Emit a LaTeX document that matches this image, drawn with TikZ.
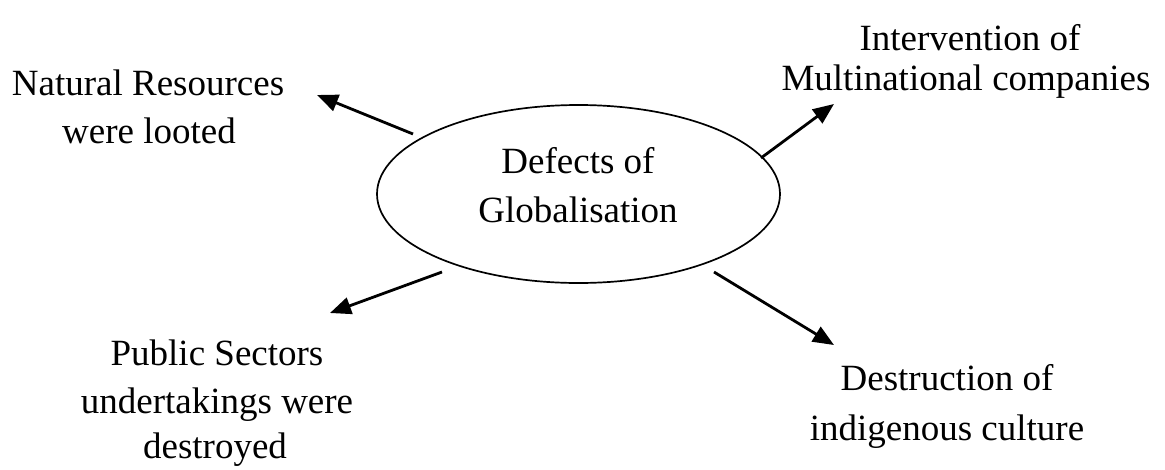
\documentclass[tikz,border=0pt]{standalone}
\usepackage{fontspec}
\setmainfont{Liberation Serif}
\usetikzlibrary{arrows.meta,shapes.geometric}
\begin{document}
\begin{tikzpicture}[x=1pt,y=-1pt,
  txt/.style={anchor=base,inner sep=0pt,font=\fontsize{37}{44}\selectfont},
  hub/.style={draw,ellipse,line width=1.7pt,minimum width=403pt,minimum height=178pt,inner sep=0pt},
  link/.style={line width=2.8pt,-{Triangle[length=21pt,width=17pt]}}]
  \useasboundingbox (0,0) rectangle (1165,469);

  % central ellipse
  \node[hub] (hub) at (578.5,194) {};
  \node[txt] (hub1) at (578,173) {Defects of};
  \node[txt] (hub2) at (578,222) {Globalisation};

  % surrounding labels
  \node[txt] (nr1) at (148,95)  {Natural Resources};
  \node[txt] (nr2) at (149,143) {were looted};

  \node[txt] (mc1) at (970,50) {Intervention of};
  \node[txt] (mc2) at (966,90) {Multinational companies};

  \node[txt] (ps1) at (217,365) {Public Sectors};
  \node[txt] (ps2) at (217,413) {undertakings were};
  \node[txt] (ps3) at (215,458) {destroyed};

  \node[txt] (di1) at (947,390) {Destruction of};
  \node[txt] (di2) at (947,440) {indigenous culture};

  % arrow ends
  \coordinate (aS) at (413,134);  \coordinate (aT) at (317,95);
  \coordinate (bS) at (761,158);  \coordinate (bT) at (834,104);
  \coordinate (cS) at (442,272);  \coordinate (cT) at (330,313);
  \coordinate (dS) at (714,272);  \coordinate (dT) at (834,345);

  \draw[link] (aS) -- (aT);
  \draw[link] (bS) -- (bT);
  \draw[link] (cS) -- (cT);
  \draw[link] (dS) -- (dT);
\end{tikzpicture}
\end{document}
